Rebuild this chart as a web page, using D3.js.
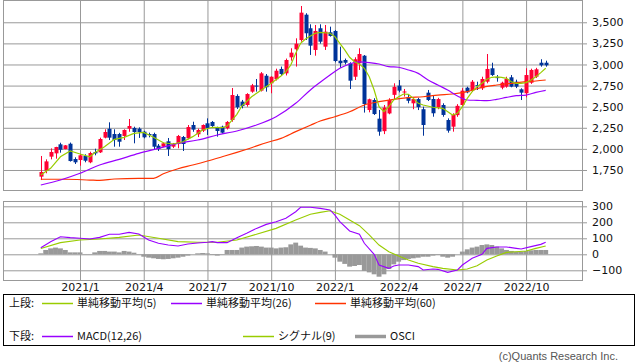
<!DOCTYPE html>
<html><head><meta charset="utf-8">
<script src="https://cdn.jsdelivr.net/npm/d3@7"></script>
<style>body{margin:0;background:#fff}svg{display:block}</style>
</head><body><svg id="c" width="638" height="362"></svg>
<script>
// ---- data ----
const startWeek = "2020-11-09";
const open  = [1671,1742,1908,1947,2054,1998,2061,1880,1868,1916,1841,1963,1959,2133,2239,2176,2176,2153,2240,2248,2240,2204,2176,2176,2038,2026,2090,2026,2058,2141,2125,2283,2173,2216,2303,2319,2248,2263,2244,2342,2627,2560,2520,2678,2750,2690,2867,2777,2825,2947,2895,3085,3180,3290,3590,3429,3172,3429,3211,3381,3397,3045,3053,3014,2855,3014,3104,2461,2579,2358,2210,2420,2640,2750,2670,2615,2540,2590,2470,2666,2591,2490,2520,2342,2263,2400,2520,2725,2690,2755,2718,2796,2955,2850,2725,2737,2848,2796,2706,2659,2784,2855,3021,3021];
const high  = [1916,1876,2006,2025,2073,2046,2075,1900,1940,1936,1967,2002,2133,2232,2315,2232,2190,2232,2354,2263,2255,2215,2192,2192,2058,2075,2129,2070,2165,2153,2283,2322,2240,2290,2362,2330,2263,2275,2330,2721,2647,2580,2660,2770,2828,2910,2887,2860,2950,2975,3070,3192,3310,3693,3607,3476,3468,3476,3468,3448,3409,3211,3070,3026,3085,3192,3112,2595,2600,2461,2520,2600,2777,2816,2710,2650,2610,2605,2500,2698,2638,2605,2540,2362,2422,2530,2720,2737,2816,2796,2855,3124,3021,2875,2796,2855,2875,2820,2718,2955,2950,2960,3062,3045];
const low   = [1631,1711,1876,1884,1955,1995,1850,1821,1801,1841,1830,1924,1951,2125,2105,2026,2026,2105,2203,2066,2130,2125,2137,1987,1975,2020,1916,2010,2007,1975,2113,2203,2140,2200,2165,2260,2145,2180,2230,2322,2473,2480,2500,2665,2678,2680,2678,2659,2810,2870,2870,3045,2975,3270,3290,3113,3104,3247,3172,3330,3026,2962,3000,2710,2816,2935,2430,2433,2402,2156,2175,2410,2579,2670,2620,2540,2470,2460,2156,2567,2381,2470,2381,2192,2204,2380,2510,2659,2674,2698,2698,2777,2864,2796,2706,2725,2730,2720,2579,2611,2770,2840,2974,2974];
const close = [1726,1852,1963,2022,1990,2042,1856,1841,1924,1860,1951,1947,2117,2200,2133,2105,2085,2224,2271,2200,2200,2137,2166,2026,1998,2066,1998,2062,2153,2058,2259,2228,2224,2283,2248,2271,2212,2192,2319,2638,2493,2508,2650,2753,2745,2895,2730,2855,2926,2887,3053,3140,3246,3614,3370,3223,3397,3270,3389,3338,3041,3014,3021,2808,3062,3124,2532,2588,2413,2204,2490,2580,2735,2690,2680,2570,2590,2495,2283,2579,2422,2590,2402,2216,2402,2510,2690,2670,2796,2745,2828,2947,2875,2843,2784,2828,2737,2737,2666,2875,2935,2943,2990,2990];

// moving averages read at [week index, value]
const ma5 = [[0,1690],[2,1770],[4,1907],[6,1975],[8,1940],[10,1907],[11,1955],[13,2026],[15,2113],[17,2137],[19,2184],[21,2196],[23,2137],[25,2073],[27,2058],[29,2085],[31,2145],[33,2224],[35,2256],[37,2251],[38,2271],[40,2409],[41,2508],[43,2618],[45,2698],[47,2777],[49,2864],[50,2915],[51,2994],[52,3133],[53,3251],[54,3302],[55,3338],[56,3370],[57,3381],[59,3370],[60,3330],[61,3251],[62,3172],[63,3085],[64,3033],[65,3006],[66,2955],[67,2855],[68,2698],[69,2500],[70,2440],[71,2500],[72,2579],[73,2618],[74,2650],[75,2646],[76,2599],[77,2540],[78,2520],[80,2493],[82,2481],[84,2401],[85,2421],[86,2500],[87,2599],[88,2678],[89,2737],[90,2777],[91,2825],[92,2848],[93,2852],[94,2848],[95,2836],[96,2796],[97,2777],[98,2777],[99,2785],[100,2816],[101,2855],[102,2903],[103,2955]];
const ma26 = [[0,1572],[4,1631],[8,1711],[12,1809],[16,1876],[20,1947],[24,2006],[28,2066],[32,2105],[36,2165],[40,2212],[44,2283],[48,2381],[52,2540],[55,2698],[57,2789],[59,2875],[61,2955],[63,3006],[65,3030],[67,3022],[69,3006],[71,2974],[73,2967],[75,2935],[77,2895],[79,2816],[81,2757],[83,2698],[85,2627],[87,2579],[89,2575],[91,2571],[93,2587],[95,2610],[97,2630],[99,2638],[101,2670],[103,2694]];
const ma60 = [[0,1640],[5,1640],[10,1631],[12,1627],[15,1643],[20,1651],[23,1651],[25,1705],[28,1765],[31,1809],[34,1856],[37,1907],[40,1959],[43,2014],[46,2073],[49,2125],[52,2204],[55,2280],[57,2330],[60,2381],[63,2440],[66,2520],[69,2559],[72,2587],[75,2607],[78,2618],[81,2638],[84,2650],[87,2678],[90,2729],[93,2757],[96,2777],[99,2796],[101,2804],[103,2816]];

// MACD panel
const macd = [[0,41],[2,79],[4,110],[6,104],[8,100],[10,96],[12,106],[14,125],[16,125],[18,137],[20,127],[22,89],[24,69],[26,58],[28,52],[30,64],[32,71],[34,75],[35,79],[36,73],[38,73],[40,104],[42,131],[44,162],[46,187],[48,204],[50,225],[52,266],[53,294],[55,294],[57,287],[59,277],[60,245],[61,204],[63,146],[65,125],[66,69],[68,0],[69,-67],[71,-88],[72,-73],[73,-67],[75,-67],[77,-77],[78,-98],[80,-92],[81,-94],[83,-113],[85,-98],[86,-67],[88,-25],[90,0],[91,37],[93,46],[95,46],[97,37],[98,33],[100,48],[102,62],[103,75]];
const signal = [[0,36],[4,73],[8,89],[12,96],[16,106],[20,121],[24,100],[28,79],[32,75],[36,75],[40,89],[44,125],[48,162],[52,214],[55,250],[57,262],[59,272],[61,250],[63,214],[65,179],[67,121],[69,58],[71,16],[73,-11],[75,-36],[77,-56],[80,-77],[82,-88],[85,-98],[87,-92],[89,-71],[91,-36],[93,-11],[95,12],[97,16],[99,21],[101,37],[103,52]];
const osci = [6,27,37,42,37,27,12,12,12,2,2,12,21,21,17,17,12,21,17,10,2,-15,-21,-25,-29,-31,-29,-25,-21,-15,-8,0,6,8,6,-4,-8,2,27,27,27,42,48,50,52,48,42,42,37,42,44,62,73,54,42,40,37,27,17,0,-21,-46,-60,-77,-73,-67,-104,-113,-125,-140,-125,-92,-63,-46,-36,-29,-25,-21,-15,-15,-8,-4,-15,-21,-15,0,17,31,42,48,58,62,58,48,37,27,21,17,17,21,25,27,27,27];

const priceTicks = [1750,2000,2250,2500,2750,3000,3250,3500];
const macdTicks = [-100,0,100,200,300];
const legendTopLabels = ["単純移動平均(5)","単純移動平均(26)","単純移動平均(60)"];
const legendBottomLabels = ["MACD(12,26)","シグナル(9)","OSCI"];

// ---- chart ----
const svg = d3.select("#c");
const C = {up:"#ff0033", down:"#003399", ma5:"#99cc00", ma26:"#9900ff", ma60:"#ff3300", grid:"#999999", osci:"#999999"};
const L = 3.5, R = 582.5;
const weeks = d3.range(open.length).map(i => d3.utcMonday.offset(d3.utcParse("%Y-%m-%d")(startWeek), i));
const x = d3.scaleUtc().domain([weeks[0], weeks[weeks.length-1]]).range([40.8, 545.7]);
const xi = i => x(weeks[i]);
const qTicks = weeks.filter(d => d.getUTCMonth() % 3 === 0 && d.getUTCDate() <= 7);

const yP = d3.scaleLinear().domain([1507, 3758]).range([190.5, 0.5]);
const yM = d3.scaleLinear().domain([-163.75, 330]).range([280.5, 201.5]);

function panel(y, top, bottom, ticks, fmt, showLabels) {
  const ga = svg.append("g").attr("transform", `translate(${L},0)`)
    .call(d3.axisRight(y).tickValues(ticks).tickSize(R - L + 4.5).tickPadding(5).tickFormat(fmt));
  ga.select(".domain").remove();
  ga.selectAll(".tick line").attr("stroke", C.grid);
  ga.selectAll(".tick text").attr("font-family", "DejaVu Sans").attr("font-size", 11).attr("fill", "#111");
  const gx = svg.append("g").attr("transform", `translate(0,${bottom})`)
    .call(d3.axisBottom(x).tickValues(qTicks).tickSize(-(bottom - top)).tickPadding(3)
      .tickFormat(showLabels ? d3.utcFormat("%Y/%-m") : () => ""));
  gx.select(".domain").remove();
  gx.selectAll(".tick line").attr("stroke", C.grid);
  gx.selectAll(".tick text").attr("font-family", "DejaVu Sans").attr("font-size", 11).attr("fill", "#111");
  svg.append("rect").attr("x", L).attr("y", top).attr("width", R - L).attr("height", bottom - top)
    .attr("fill", "none").attr("stroke", C.grid);
}
panel(yP, 0.5, 190.5, priceTicks, d3.format(","), false);
panel(yM, 201.5, 280.5, macdTicks, d3.format("d"), true);

// candles
const idx = d3.range(open.length);
const cg = svg.append("g");
cg.selectAll("line.w").data(idx).join("line")
  .attr("x1", i => Math.round(xi(i)) + 0.5).attr("x2", i => Math.round(xi(i)) + 0.5)
  .attr("y1", i => yP(high[i])).attr("y2", i => yP(low[i]))
  .attr("stroke", i => close[i] >= open[i] ? C.up : C.down).attr("stroke-width", 1);
cg.selectAll("rect.b").data(idx).join("rect")
  .attr("x", i => Math.round(xi(i)) - 1.5).attr("width", 4)
  .attr("y", i => yP(Math.max(open[i], close[i])))
  .attr("height", i => Math.max(1, Math.abs(yP(open[i]) - yP(close[i]))))
  .attr("fill", i => close[i] >= open[i] ? C.up : C.down);

// MA lines
const lineP = d3.line().x(d => xi(d[0])).y(d => yP(d[1]));
const lineS = d3.line().x(d => xi(d[0])).y(d => yP(d[1])).curve(d3.curveMonotoneX);
svg.append("path").datum(ma60).attr("d", lineS).attr("fill", "none").attr("stroke", C.ma60).attr("stroke-width", 1.2);
svg.append("path").datum(ma26).attr("d", lineS).attr("fill", "none").attr("stroke", C.ma26).attr("stroke-width", 1.2);
svg.append("path").datum(ma5).attr("d", lineP).attr("fill", "none").attr("stroke", C.ma5).attr("stroke-width", 1.2);

// OSCI bars
const bw = xi(1) - xi(0);
svg.append("g").selectAll("rect").data(idx).join("rect")
  .attr("x", i => xi(i) - bw / 2).attr("width", bw)
  .attr("y", i => yM(Math.max(0, osci[i])))
  .attr("height", i => Math.abs(yM(osci[i]) - yM(0)))
  .attr("fill", C.osci);
const lineM = d3.line().x(d => xi(d[0])).y(d => yM(d[1]));
[[signal, C.ma5], [macd, C.ma26]].forEach(([s, c]) =>
  svg.append("path").datum(s).attr("d", lineM).attr("fill", "none").attr("stroke", c).attr("stroke-width", 1.1));

// legend
const lg = svg.append("g").attr("font-family", "Noto Sans CJK JP").attr("font-size", 11).attr("fill", "#111");
lg.append("rect").attr("x", L).attr("y", 294.5).attr("width", 631).attr("height", 51)
  .attr("fill", "none").attr("stroke", "#000");
function row(yy, head, items) {
  lg.append("text").attr("x", 9).attr("y", yy).attr("dy", "0.35em").text(head);
  items.forEach(([lx, label, col, w]) => {
    lg.append("line").attr("x1", lx).attr("x2", lx + 31).attr("y1", yy + 0.5).attr("y2", yy + 0.5)
      .attr("stroke", col).attr("stroke-width", w);
    lg.append("text").attr("x", lx + 35).attr("y", yy).attr("dy", "0.35em").text(label);
  });
}
row(303, "上段:", [[42, legendTopLabels[0], C.ma5, 1.5], [171, legendTopLabels[1], C.ma26, 1.5], [315, legendTopLabels[2], C.ma60, 1.5]]);
row(336, "下段:", [[42, legendBottomLabels[0], C.ma26, 1.5], [243, legendBottomLabels[1], C.ma5, 1.5], [355, legendBottomLabels[2], C.osci, 3.5]]);

svg.append("text").attr("x", 618).attr("y", 360).attr("text-anchor", "end")
  .attr("font-family", "Liberation Sans").attr("font-size", 11).attr("fill", "#555")
  .text("(c)Quants Research Inc.");
</script></body></html>
